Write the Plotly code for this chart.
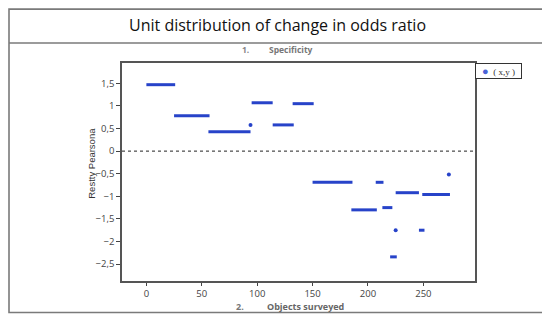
import plotly.graph_objects as go

# Segments of dense points (start x, end x, y value)
seg_x0 = [0, 25, 56, 95, 114, 132, 150, 207, 185, 213, 225, 249, 246, 220]
seg_x1 = [26, 57, 94, 114, 133, 151, 186, 214, 208, 222, 246, 274, 251, 226]
seg_y = [1.47, 0.78, 0.43, 1.07, 0.58, 1.05, -0.69, -0.69, -1.30, -1.25, -0.92, -0.96, -1.75, -2.34]
# Isolated points
pt_x = [94, 225, 273]
pt_y = [0.58, -1.75, -0.52]

x_ticks = [0, 50, 100, 150, 200, 250]
y_ticks = [-2.5, -2, -1.5, -1, -0.5, 0, 0.5, 1, 1.5]

blue = "#2743c9"

lx, ly = [], []
for a, b, y in zip(seg_x0, seg_x1, seg_y):
    lx += [a, b, None]
    ly += [y, y, None]

fig = go.Figure()
fig.add_trace(go.Scatter(x=lx, y=ly, mode="lines", line=dict(color=blue, width=3),
                         showlegend=False, hoverinfo="skip"))
fig.add_trace(go.Scatter(x=pt_x, y=pt_y, mode="markers",
                         marker=dict(color=blue, size=4), showlegend=False))

# page body has an 8px margin: compensate
OFF = 8
W, H = 550, 322
# target screen pixel positions of the plot area
SL, ST, SR, SB = 122, 63, 475, 281.5
L, T = SL - OFF, ST - OFF
R, B = W - (SR - OFF), H - (SB - OFF)
pw, ph = SR - SL, SB - ST


def px(x):
    return (x - SL) / pw


def py(y):
    return (SB - y) / ph


gray = "#7a7a7a"
shapes = [
    dict(type="rect", xref="paper", yref="paper", x0=px(9), x1=px(545), y0=py(313), y1=py(9),
         line=dict(color=gray, width=1.6)),
    dict(type="line", xref="paper", yref="paper", x0=px(9), x1=px(545), y0=py(43), y1=py(43),
         line=dict(color=gray, width=1.6)),
    dict(type="line", xref="paper", yref="y", x0=0, x1=1, y0=0, y1=0,
         line=dict(color="#222", width=1, dash="dot")),
]

annotations = [
    dict(text="Unit distribution of change in odds ratio", xref="paper", yref="paper",
         x=px(277), y=py(25), showarrow=False, xanchor="center", yanchor="middle",
         font=dict(family="Open Sans", size=16, color="#111")),
    dict(text="<b>1.</b>", xref="paper", yref="paper",
         x=px(245), y=py(49), showarrow=False, xanchor="center", yanchor="middle",
         font=dict(family="Open Sans", size=8.5, color="#888")),
    dict(text="<b>Specificity</b>", xref="paper", yref="paper",
         x=px(291), y=py(49), showarrow=False, xanchor="center", yanchor="middle",
         font=dict(family="Open Sans", size=8.5, color="#777")),
    dict(text="<b>2.</b>", xref="paper", yref="paper",
         x=px(240), y=py(307), showarrow=False, xanchor="center", yanchor="middle",
         font=dict(family="Open Sans", size=9, color="#777")),
    dict(text="<b>Objects surveyed</b>", xref="paper", yref="paper",
         x=px(305), y=py(307), showarrow=False, xanchor="center", yanchor="middle",
         font=dict(family="Open Sans", size=9, color="#666")),
    dict(text="Restty Pearsona", xref="paper", yref="paper", textangle=-90,
         x=px(92), y=py(164), showarrow=False, xanchor="center", yanchor="middle",
         font=dict(family="Liberation Sans", size=9.5, color="#333")),
    dict(text="<span style='color:#4a63d6;font-size:11px'>●</span>&nbsp;&nbsp;( x,y )",
         xref="paper", yref="paper",
         x=px(475), y=py(63), showarrow=False, xanchor="left", yanchor="top",
         bordercolor="#333", borderwidth=1, borderpad=1, bgcolor="white", width=43, height=12,
         font=dict(family="Liberation Serif", size=9, color="#333")),
]

fig.update_layout(
    width=W, height=H,
    margin=dict(l=L, r=R, t=T, b=B, pad=0),
    paper_bgcolor="white", plot_bgcolor="white",
    separators=", ",
    shapes=shapes, annotations=annotations,
    showlegend=False,
    xaxis=dict(range=[-22, 296.6], tickvals=x_ticks, showgrid=False, zeroline=False,
               showline=True, linecolor="#555", linewidth=1.5, mirror=True,
               ticks="outside", ticklen=3, tickcolor="#444", tickwidth=1.2,
               tickfont=dict(family="Open Sans", size=9.5, color="#444")),
    yaxis=dict(range=[-2.874, 1.95], tickvals=y_ticks, showgrid=False, zeroline=False,
               showline=True, linecolor="#555", linewidth=1.5, mirror=True,
               ticks="outside", ticklen=4, tickcolor="#444", tickwidth=1.2,
               tickfont=dict(family="Open Sans", size=9.5, color="#444")),
)

fig.write_html("out.html")
